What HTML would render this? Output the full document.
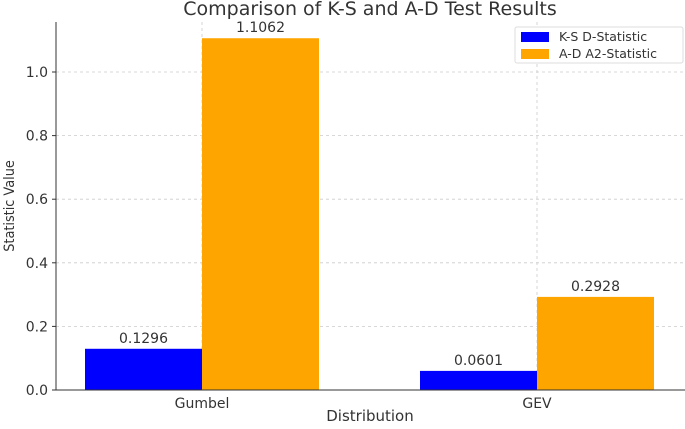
<!DOCTYPE html>
<html><head><meta charset="utf-8"><style>
body{margin:0;background:#fff;width:685px;height:424px;overflow:hidden}
svg text{font-family:"DejaVu Sans","Liberation Sans",sans-serif;fill:#333}
</style></head><body>
<svg id="c" width="685" height="424"></svg>
<script>
const categories=["Gumbel","GEV"];
const ksValues=[0.1296,0.0601];
const adValues=[1.1062,0.2928];
const ksLabels=["0.1296","0.0601"];
const adLabels=["1.1062","0.2928"];
const yTicks=[0.0,0.2,0.4,0.6,0.8,1.0];
const NS="http://www.w3.org/2000/svg";
const svg=document.getElementById('c');
const L=56,R=685,T=22,B=390,yMax=1.0;
const y=v=>B-(v/yMax)*(B-72);
const centers=[202,537];
const x=i=>centers[i];
const bw=117;
function el(t,a,txt){const e=document.createElementNS(NS,t);for(const k in a)e.setAttribute(k,a[k]);if(txt!=null)e.textContent=txt;svg.appendChild(e);return e;}
yTicks.forEach(v=>{
 const g=el('line',{x1:L,x2:R,y1:y(v),y2:y(v),stroke:'#ccc','stroke-dasharray':'3,3','stroke-width':0.8});
 
 
 const tk=el('line',{x1:L-4,x2:L,y1:y(v),y2:y(v),stroke:'#333'});
 
 
 const t=el('text',{x:L-8,y:y(v)+5,'text-anchor':'end','font-size':14},v.toFixed(1));
 
 
});
categories.forEach((c,i)=>{
 const g=el('line',{x1:x(i),x2:x(i),y1:T,y2:B,stroke:'#ccc','stroke-dasharray':'3,3','stroke-width':0.8});
 
 
 const b1=el('rect',{x:x(i)-bw,y:y(ksValues[i]),width:bw,height:B-y(ksValues[i]),fill:'#0000ff'});
 
 
 const b2=el('rect',{x:x(i),y:y(adValues[i]),width:bw,height:B-y(adValues[i]),fill:'#ffa500'});
 
 
 const l1=el('text',{x:x(i)-bw/2,y:y(ksValues[i])-6,'text-anchor':'middle','font-size':14},ksLabels[i]);
 
 
 const l2=el('text',{x:x(i)+bw/2,y:y(adValues[i])-6,'text-anchor':'middle','font-size':14},adLabels[i]);
 
 
 const xt=el('text',{x:x(i),y:B+18,'text-anchor':'middle','font-size':14},c);
 
 
});
const ax=el('line',{x1:L,x2:L,y1:T,y2:B,stroke:'#333','stroke-width':1});


const bx=el('line',{x1:L,x2:R,y1:B,y2:B,stroke:'#333','stroke-width':1});


const ti=el('text',{x:370,y:15,'text-anchor':'middle','font-size':19},'Comparison of K-S and A-D Test Results');


const xl=el('text',{x:370,y:421,'text-anchor':'middle','font-size':15},'Distribution');


const yl=el('text',{x:0,y:0,'text-anchor':'middle','font-size':14,transform:'translate(14,206) rotate(-90) scale(0.92,1)'},'Statistic Value');


const lg=el('rect',{x:515,y:27,width:168,height:36,fill:'#fff',stroke:'#ddd',rx:2});


[['#0000ff','K-S D-Statistic'],['#ffa500','A-D A2-Statistic']].forEach((e,k)=>{
 const s=el('rect',{x:521,y:36+k*17-4,width:28,height:10,fill:e[0]});
 
 
 const t=el('text',{x:559,y:41+k*17,'font-size':12.5},e[1]);
 
 
});
</script>
</body></html>
